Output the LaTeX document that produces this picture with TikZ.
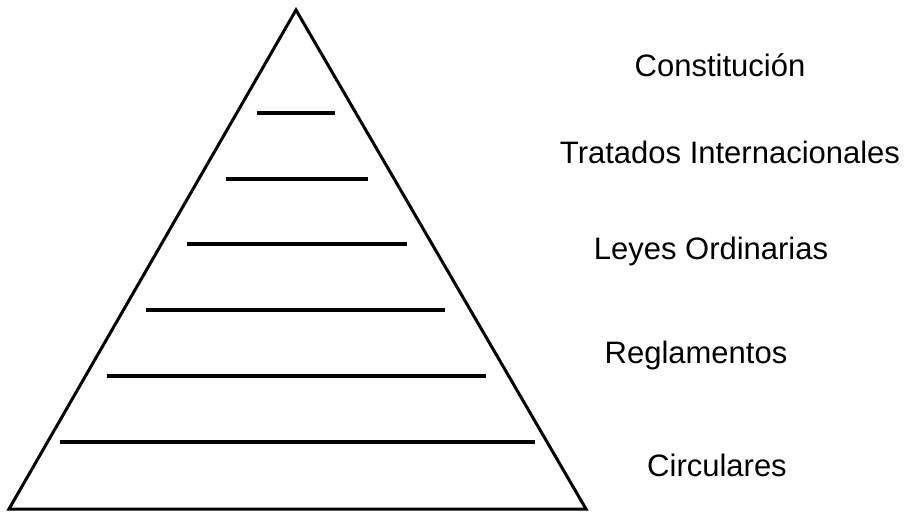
\documentclass[tikz,border=0pt]{standalone}
\usepackage{fontspec}
\setmainfont{Liberation Sans}
\tikzset{
  nivel/.style={line width=4pt},
  rango/.style={anchor=base, font=\fontsize{31}{37}\selectfont}
}
\begin{document}
\begin{tikzpicture}[x=1pt, y=-1pt]
\useasboundingbox (0, 0) rectangle (909, 515);
\draw[line width=3pt, line join=miter] (296, 10) -- (586, 509) -- (9, 509) -- cycle;
\draw[nivel] (257, 113) -- (335, 113);
\draw[nivel] (226, 179) -- (368, 179);
\draw[nivel] (187, 244) -- (407, 244);
\draw[nivel] (146, 310) -- (445, 310);
\draw[nivel] (107, 376) -- (486, 376);
\draw[nivel] (60, 442) -- (535, 442);
\node[rango] (constitucion) at (720, 76) {Constitución};
\node[rango] (tratados) at (730, 163) {Tratados Internacionales};
\node[rango] (leyes) at (711, 259) {Leyes Ordinarias};
\node[rango] (reglamentos) at (696, 363) {Reglamentos};
\node[rango] (circulares) at (717, 476) {Circulares};
\end{tikzpicture}
\end{document}
